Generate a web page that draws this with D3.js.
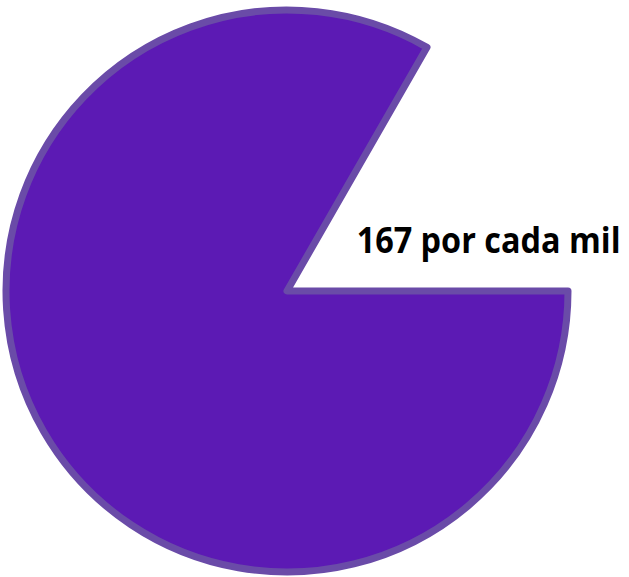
<!DOCTYPE html>
<html>
<head>
<script src='https://d3js.org/d3.v7.min.js'></script>
<style>
body {margin:0; background:#fff;}
</style>
</head>
<body>
<svg width=629 height=577></svg>
<script>
var labels = ['resto','167 por cada mil']
var values = [833,167]
var fills = ['#5c1ab4','none']

var width = 629
var height = 577
var cx = 287
var cy = 291
var radius = 281

var svg = d3.select('svg')
var g = svg.append('g').attr('transform','translate('+cx+','+cy+')')

var pie = d3.pie().sort(null).startAngle(Math.PI/2).endAngle(Math.PI/2+2*Math.PI)
var arcs = pie(values)

var arc = d3.arc().innerRadius(0).outerRadius(radius)
var labelArc = d3.arc().innerRadius(0).outerRadius(154)

// only the big slice is drawn, the 167 slice is left empty
g.selectAll('path')
  .data(arcs.filter(function(d,i){return fills[i] != 'none'}))
  .enter()
  .append('path')
    .attr('d',arc)
    .attr('fill',function(d){return fills[d.index]})
    .attr('stroke','#6a4ba8')
    .attr('stroke-width',7)
    .attr('stroke-linejoin','round')

// label, squeezed a bit so the wide font fits like the narrow original
var c = labelArc.centroid(arcs[1])
var lab = g.append('g')
  .attr('transform','translate('+(c[0]+3)+','+(c[1]+1)+')')
var t = lab.append('text')
  .attr('font-family','Open Sans, sans-serif')
  .attr('font-weight','bold')
  .attr('font-size',35)
  .attr('fill','#000')
  .text(labels[1])
var len = t.node().getComputedTextLength()
t.attr('transform','scale('+(264/len)+',1)')
</script>
</body>
</html>
